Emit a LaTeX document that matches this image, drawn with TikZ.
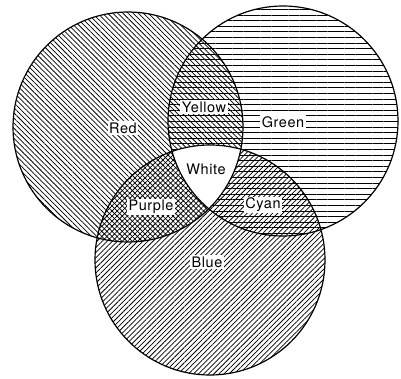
\documentclass[tikz,border=0pt]{standalone}
\usepackage{fontspec}
\setmainfont{TeX Gyre Heros}[LetterSpace=4]
\usetikzlibrary{patterns.meta}

\begin{document}
\begin{tikzpicture}[x=1pt, y=-1pt,
  every node/.style={fill=white, inner sep=1.5pt, font=\fontsize{14.5}{16}\selectfont},
  ring/.style={draw, line width=1.2pt}]

  \useasboundingbox (0,0) rectangle (401,379);

  % centres of the three circles (pixel coords, y down)
  \coordinate (red)   at (128,127);
  \coordinate (green) at (283,121);
  \coordinate (blue)  at (210,260);

  % hatching of each circle
  \fill[pattern={Lines[angle=-45, distance=3.6pt, line width=0.75pt]}] (red) circle[radius=115pt];
  \fill[pattern={Lines[angle=0, distance=5.6pt, line width=0.75pt]}] (green) circle[radius=115pt];
  \fill[pattern={Lines[angle=45, distance=3.6pt, line width=0.75pt]}] (blue) circle[radius=115pt];

  % the middle stays white
  \begin{scope}
    \clip (red) circle[radius=115pt];
    \clip (green) circle[radius=115pt];
    \fill[white] (blue) circle[radius=115pt];
  \end{scope}

  % outlines
  \draw[ring] (red) circle[radius=115pt];
  \draw[ring] (green) circle[radius=115pt];
  \draw[ring] (blue) circle[radius=115pt];

  % labels
  \node (lred)    at (123,128) {Red};
  \node (lyellow) at (204,107) {Yellow};
  \node (lgreen)  at (283,122) {Green};
  \node (lwhite)  at (206,169) {White};
  \node (lpurple) at (151,207) {Purple};
  \node (lcyan)   at (263,205) {Cyan};
  \node (lblue)   at (207,262) {Blue};

\end{tikzpicture}
\end{document}
